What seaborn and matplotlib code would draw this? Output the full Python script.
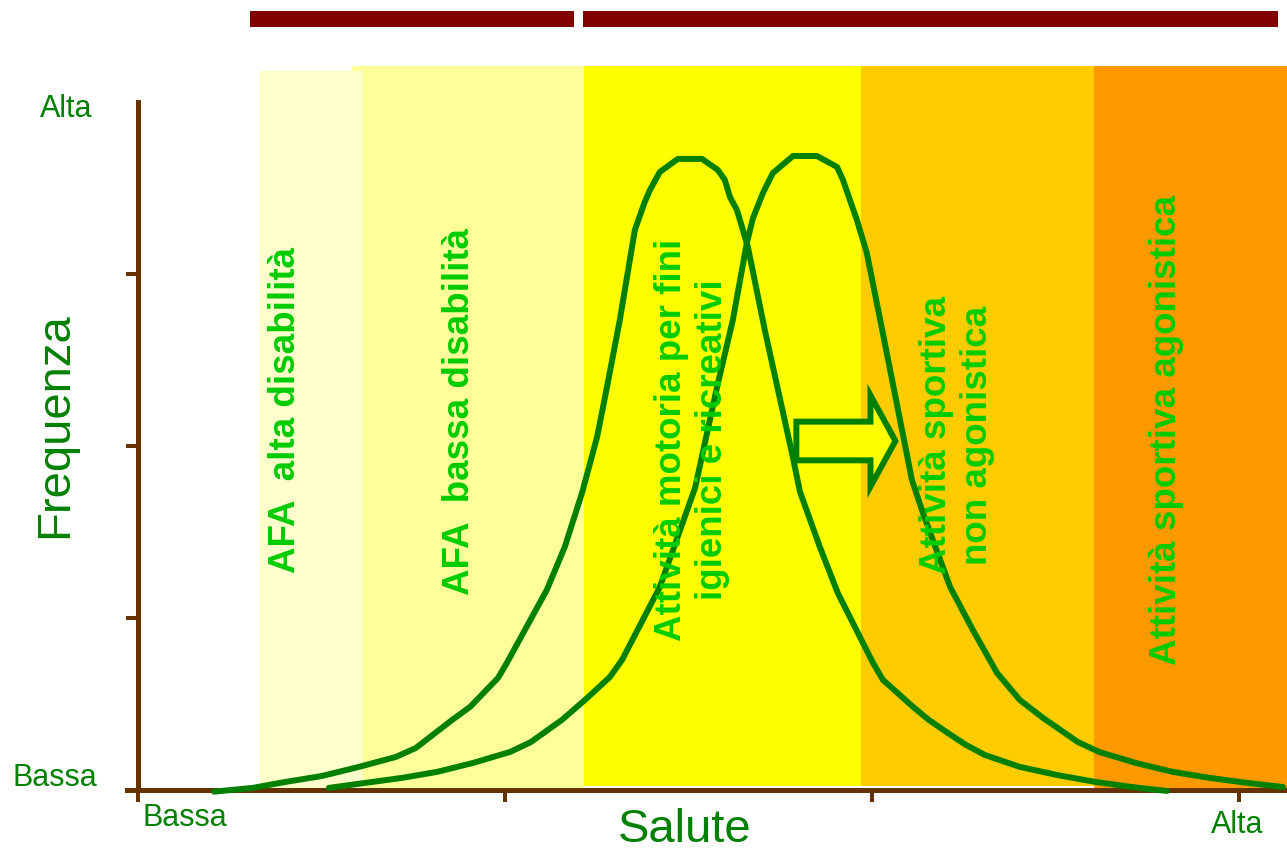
import numpy as np
import pandas as pd
import matplotlib
matplotlib.use("Agg")
import matplotlib.pyplot as plt
from matplotlib.patches import FancyArrow
import seaborn as sns

# curve values (Salute on x, Frequenza on y; ticks every 10)
salute_1 = [2.07, 3.13, 4.03, 5.01, 6.02, 7.03, 7.57, 8.56, 9.05, 9.81, 10.05, 11.14, 11.63,
            12.10, 12.51, 12.78, 13.13, 13.54, 13.81, 13.95, 14.22, 14.71, 15.37, 15.80, 15.99,
            16.13, 16.32, 16.46, 16.62, 17.08, 17.38, 17.82, 18.04, 18.58, 19.07, 20.03, 20.30,
            21.12, 21.55, 22.07, 22.56, 23.08, 24.03, 25.04, 26.08, 27.08, 28.04]
freq_1 = [-0.1, 0.12, 0.47, 0.81, 1.34, 1.92, 2.44, 4.07, 4.83, 6.51, 7.38, 11.63, 14.13,
          17.27, 20.52, 23.43, 27.33, 32.56, 34.19, 34.88, 35.93, 36.69, 36.69, 36.05, 35.47,
          34.48, 33.72, 32.73, 31.57, 26.74, 23.84, 19.59, 17.33, 14.13, 11.45, 7.38, 6.40,
          4.83, 4.07, 3.31, 2.62, 2.03, 1.34, 0.87, 0.47, 0.17, -0.06]

salute_2 = [5.20, 7.19, 8.15, 9.13, 10.14, 10.71, 11.55, 12.18, 12.86, 13.19, 14.22, 15.18,
            15.78, 16.21, 16.59, 16.76, 17.03, 17.30, 17.85, 18.50, 19.05, 19.21, 19.40, 19.59,
            19.86, 20.28, 21.09, 21.39, 22.13, 22.75, 23.41, 24.03, 24.66, 25.61, 26.19, 27.19,
            28.20, 29.21, 30.22, 31.20]
freq_2 = [0.12, 0.70, 1.05, 1.57, 2.21, 2.79, 4.07, 5.23, 6.57, 7.56, 11.80, 17.56,
          23.43, 27.33, 31.80, 33.26, 34.71, 35.87, 36.86, 36.86, 36.22, 35.47, 34.30, 33.14,
          31.22, 26.74, 18.02, 16.10, 11.80, 9.30, 6.80, 5.23, 4.19, 2.79, 2.21, 1.57,
          1.05, 0.70, 0.41, 0.17]

# coloured zones along Salute
band_left = [5.83, 3.32, 12.15, 19.70, 26.05]
band_right = [12.15, 6.13, 19.70, 26.05, 31.31]
band_bottom = [0.12, 0.12, 0.23, 0.23, 0.06]
band_top = [42.09, 41.80, 42.09, 42.09, 42.09]
band_colors = ["#FFFF99", "#FFFFCC", "#FFFF00", "#FFCC00", "#FF9900"]

zone_labels = ["AFA  alta disabilità", "AFA  bassa disabilità",
               "Attività motoria per fini\nigienici e ricreativi",
               "Attività sportiva\nnon agonistica", "Attività sportiva agonistica"]
zone_x = [4.01, 8.75, 15.10, 22.32, 28.04]
zone_y = [22.09, 21.98, 20.35, 20.64, 20.93]

# dark red bars at the top
topbar_left = [3.05, 12.13]
topbar_right = [11.88, 31.06]

sns.set_theme(style="white")
plt.rcParams["font.family"] = ["Liberation Sans", "DejaVu Sans"]

fig = plt.figure(figsize=(12.87, 8.51), dpi=100)
ax = fig.add_axes([0, 0, 1, 1])
ax.set_xlim(-3.76, 31.31)
ax.set_ylim(-3.55, 45.93)
ax.set_facecolor("white")

for l, r, b, t, c in zip(band_left, band_right, band_bottom, band_top, band_colors):
    ax.bar(l, t - b, bottom=b, width=r - l, align="edge", color=c, lw=0, zorder=1)

for l, r in zip(topbar_left, topbar_right):
    ax.barh(44.83, r - l, left=l, height=0.93, color="#800000", lw=0)

for s, f in [(salute_1, freq_1), (salute_2, freq_2)]:
    df = pd.DataFrame({"Salute": s, "Frequenza": f})
    sns.lineplot(data=df, x="Salute", y="Frequenza", sort=False, estimator=None,
                 color="#008000", lw=4.3, ax=ax, zorder=3)

ax.add_patch(FancyArrow(17.94, 20.29, 2.70, 0, width=2.25, head_width=5.3, head_length=0.68,
                        length_includes_head=True, fc="#FFFF00", ec="#008000", lw=4.3,
                        zorder=4))

for txt, x, y in zip(zone_labels, zone_x, zone_y):
    ax.text(x, y, txt, rotation=90, ha="center", va="center", fontsize=26.5,
            fontweight="bold", color="#00CC00", zorder=5, linespacing=1.2)

# axes
axis_col = "#663300"
for side in ["top", "right"]:
    ax.spines[side].set_visible(False)
ax.spines["left"].set_position(("data", 0))
ax.spines["bottom"].set_position(("data", 0))
ax.spines["left"].set_bounds(0, 40)
ax.spines["bottom"].set_bounds(-0.3, 31.31)
for side in ["left", "bottom"]:
    ax.spines[side].set_color(axis_col)
    ax.spines[side].set_linewidth(3.6)
    ax.spines[side].set_zorder(2)
ax.set_xticks([0, 10, 20, 30])
ax.set_yticks([0, 10, 20, 30])
ax.set_xticklabels([])
ax.set_yticklabels([])
ax.tick_params(direction="out", length=8.5, width=2.9, color=axis_col,
               bottom=True, left=True)
ax.set_xlabel("")
ax.set_ylabel("")

green = "#008000"
ax.text(-1.96, 39.60, "Alta", ha="center", va="center", fontsize=22, color=green)
ax.text(-2.26, 0.70, "Bassa", ha="center", va="center", fontsize=22, color=green)
ax.text(1.28, -1.63, "Bassa", ha="center", va="center", fontsize=22, color=green)
ax.text(29.95, -2.03, "Alta", ha="center", va="center", fontsize=22, color=green)
ax.text(14.90, -2.33, "Salute", ha="center", va="center", fontsize=34, color=green)
ax.text(-2.26, 21.22, "Frequenza", ha="center", va="center", fontsize=34, color=green,
        rotation=90)

fig.savefig("out.png", dpi=100)
